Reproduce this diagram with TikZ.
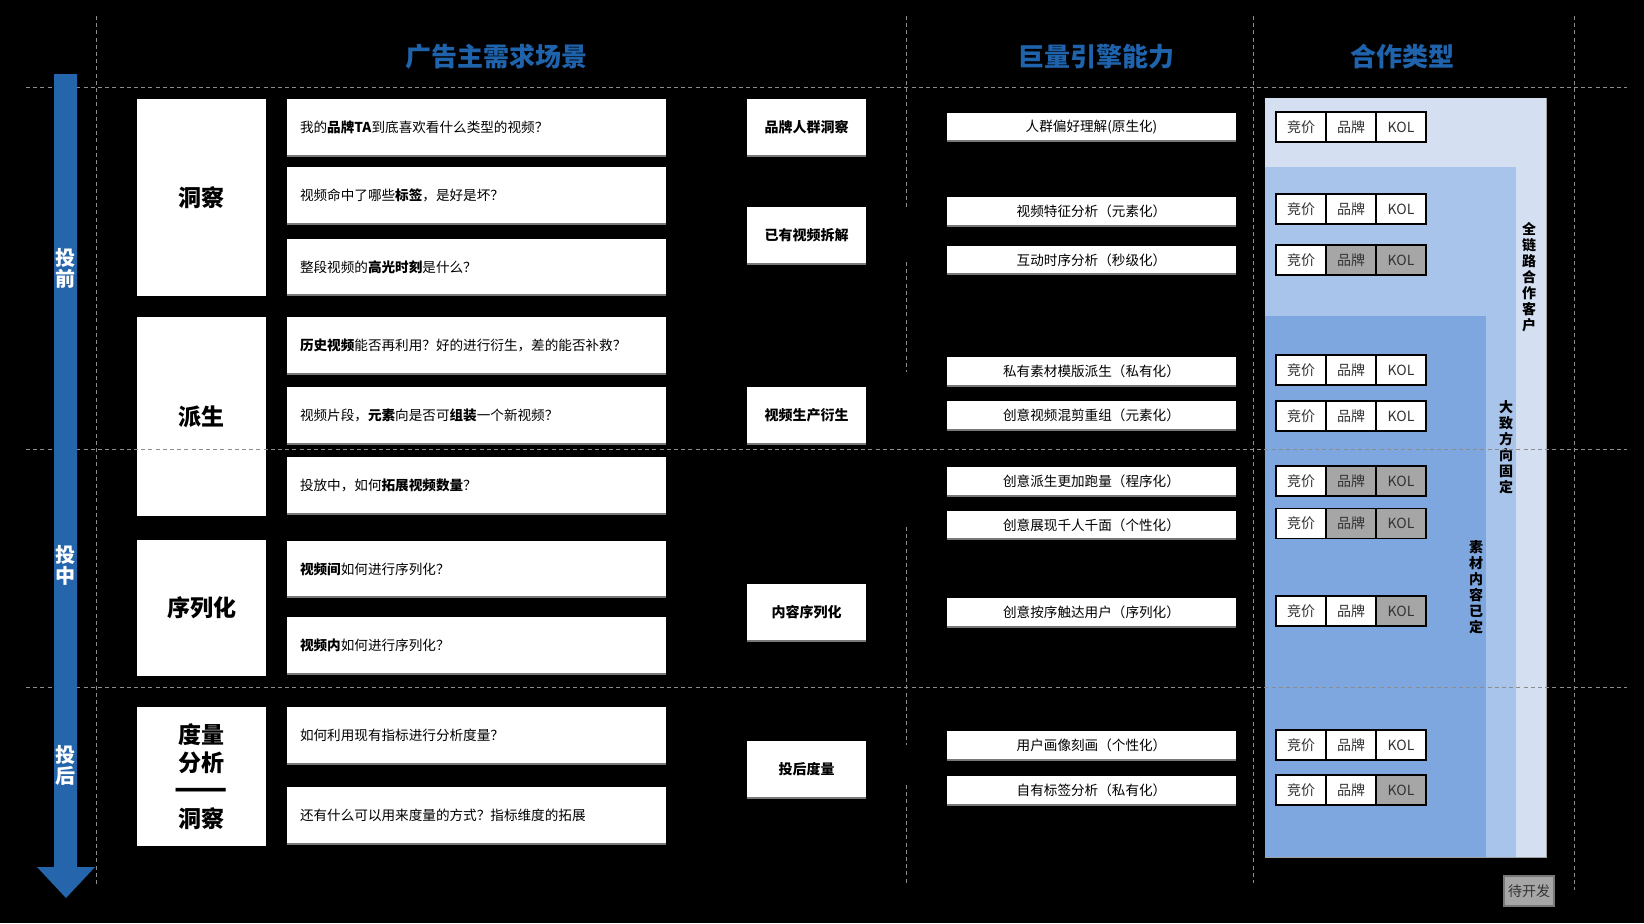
\documentclass[tikz,border=0pt]{standalone}
\usepackage{fontspec}
\usepackage{graphicx}
\setmainfont{Noto Sans CJK SC}
\usetikzlibrary{positioning}
\definecolor{headblue}{RGB}{31,99,172}
\definecolor{arrowblue}{RGB}{37,101,171}
\definecolor{guidegray}{RGB}{140,140,140}
\definecolor{panelouter}{RGB}{212,224,242}
\definecolor{panelmid}{RGB}{168,196,234}
\definecolor{panelinner}{RGB}{126,166,223}
\definecolor{cellgray}{RGB}{166,166,166}
\definecolor{edgegray}{RGB}{120,120,120}

\begin{document}
\begin{tikzpicture}[
  x=0.5pt, y=-0.5pt,
  guide/.style={draw=guidegray, line width=0.5pt, dash pattern=on 2pt off 1.6pt},
  header/.style={font=\fontsize{13}{15}\selectfont\bfseries, text=headblue},
  phase/.style={font=\fontsize{10}{10.5}\selectfont\bfseries, text=white, align=center, inner sep=0pt},
  bottomedge/.style={path picture={
    \draw[edgegray, line width=1.2pt] (path picture bounding box.south west) -- (path picture bounding box.south east);}},
  catbox/.style={
    fill=white,
    minimum width=64.5pt,
    inner sep=0pt,
    align=center,
    font=\fontsize{11.5}{14}\selectfont\bfseries
  },
  qbox/.style={
    fill=white, bottomedge,
    minimum width=189.5pt,
    minimum height=28.5pt,
    text width=176.5pt,
    inner xsep=6.5pt,
    align=left,
    font=\fontsize{6.8}{8}\selectfont
  },
  midbox/.style={
    fill=white, bottomedge,
    minimum width=59.5pt,
    minimum height=28.5pt,
    inner sep=0pt,
    font=\fontsize{7}{8}\selectfont\bfseries
  },
  capbox/.style={
    fill=white, bottomedge,
    minimum width=144.5pt,
    minimum height=14.5pt,
    inner sep=0pt,
    font=\fontsize{6.8}{8}\selectfont
  },
  cell/.style={
    draw=black, line width=0.6pt,
    fill=white,
    minimum width=25pt,
    minimum height=15pt,
    inner sep=0pt, outer sep=0pt,
    text=black!80,
    font=\fontsize{7}{8}\selectfont
  },
  vlabel/.style={align=center, inner sep=0pt, font=\fontsize{7}{8}\selectfont\bfseries}
]

  % background
  \fill[black] (0,0) rectangle (1644,923);

  % partner type panels
  \fill[panelouter] (1265,98) rectangle (1546,857);
  \draw[edgegray!70, line width=0.5pt] (1546,98) -- (1546,857) -- (1265,857);
  \fill[panelmid] (1265,167) rectangle (1516,857);
  \fill[panelinner] (1265,316) rectangle (1486,857);

  % column headers
  \node[header] (hdemand) at (496,57) {广告主需求场景};
  \node[header] (hengine) at (1096,57) {巨量引擎能力};
  \node[header] (hcoop) at (1402,57) {合作类型};

  % scene categories
  \node[catbox, minimum height=98.5pt] (insight) at (201.5,197.5) {洞察};
  \node[catbox, minimum height=99.5pt] (derive) at (201.5,416.5) {派生};
  \node[catbox, minimum height=68pt] (serial) at (201.5,608) {序列化};
  \node[catbox, minimum height=69.5pt] (measure) at (201.5,776.5) {度量\\分析\\\scalebox{1.35}[1.4]{——}\\洞察};

  % advertiser questions
  \node[qbox] (q1) at (476.5,127.5) {我的\textbf{品牌TA}到底喜欢看什么类型的视频？};
  \node[qbox] (q2) at (476.5,195.5) {视频命中了哪些\textbf{标签}，是好是坏？};
  \node[qbox] (q3) at (476.5,267) {整段视频的\textbf{高光时刻}是什么？};
  \node[qbox] (q4) at (476.5,345.5) {\textbf{历史视频}能否再利用？好的进行衍生，差的能否补救？};
  \node[qbox] (q5) at (476.5,415.5) {视频片段，\textbf{元素}向是否可\textbf{组装}一个新视频？};
  \node[qbox] (q6) at (476.5,485.5) {投放中，如何\textbf{拓展视频数量}？};
  \node[qbox] (q7) at (476.5,569) {\textbf{视频间}如何进行序列化？};
  \node[qbox] (q8) at (476.5,645.5) {\textbf{视频内}如何进行序列化？};
  \node[qbox] (q9) at (476.5,735.5) {如何利用现有指标进行分析度量？};
  \node[qbox] (q10) at (476.5,815.5) {还有什么可以用来度量的方式？指标维度的拓展};

  % needs
  \node[midbox] (crowd) at (806.5,127.5) {品牌人群洞察};
  \node[midbox] (split) at (806.5,235.5) {已有视频拆解};
  \node[midbox] (produce) at (806.5,415.5) {视频生产衍生};
  \node[midbox] (order) at (806.5,612.5) {内容序列化};
  \node[midbox] (after) at (806.5,769.5) {投后度量};

  % engine capabilities
  \node[capbox] (cap1) at (1091.5,127) {人群偏好理解(原生化)};
  \node[capbox] (cap2) at (1091.5,211.5) {视频特征分析（元素化）};
  \node[capbox] (cap3) at (1091.5,260) {互动时序分析（秒级化）};
  \node[capbox] (cap4) at (1091.5,371.5) {私有素材模版派生（私有化）};
  \node[capbox] (cap5) at (1091.5,415.5) {创意视频混剪重组（元素化）};
  \node[capbox] (cap6) at (1091.5,481.5) {创意派生更加跑量（程序化）};
  \node[capbox] (cap7) at (1091.5,525) {创意展现千人千面（个性化）};
  \node[capbox] (cap8) at (1091.5,612.5) {创意按序触达用户（序列化）};
  \node[capbox] (cap9) at (1091.5,745.5) {用户画像刻画（个性化）};
  \node[capbox] (cap10) at (1091.5,790.5) {自有标签分析（私有化）};

  % cooperation cells
  \foreach \y/\bc/\kc [count=\i] in {127/white/white, 209/white/white, 260/cellgray/cellgray,
      370/white/white, 416/white/white, 481/cellgray/cellgray, 523.5/cellgray/cellgray,
      611/white/cellgray, 745/white/white, 790/white/cellgray} {
    \node[cell] (bid\i) at (1301,\y) {竞价};
    \node[cell, fill=\bc, right=0pt of bid\i] (brand\i) {品牌};
    \node[cell, fill=\kc, right=0pt of brand\i] (kol\i) {KOL};
  }

  \node[vlabel] (fullchain) at (1529,277) {全\\链\\路\\合\\作\\客\\户};
  \node[vlabel] (direction) at (1506,447) {大\\致\\方\\向\\固\\定};
  \node[vlabel] (material) at (1476,587) {素\\材\\内\\容\\已\\定};

  \node[cell, fill=cellgray, draw=edgegray] (todo) at (1529,891) {待开发};

  % guide lines
  \foreach \y in {87,449,687} \draw[guide] (26,\y) -- (1627,\y);
  \draw[guide] (96.5,16) -- (96.5,884);
  \foreach \a/\b in {16/210, 262/372, 527/745, 785/883} \draw[guide] (906,\a) -- (906,\b);
  \draw[guide] (1253,16) -- (1253,883);
  \draw[guide] (1574,16) -- (1574,890);

  % timeline arrow
  \fill[arrowblue] (54,74) -- (77,74) -- (77,867) -- (95,867) -- (66,898) -- (37,867) -- (54,867) -- cycle;
  \node[phase] (before) at (65.5,268) {投\\前};
  \node[phase] (during) at (65.5,565) {投\\中};
  \node[phase] (postrun) at (65.5,765) {投\\后};

\end{tikzpicture}
\end{document}
